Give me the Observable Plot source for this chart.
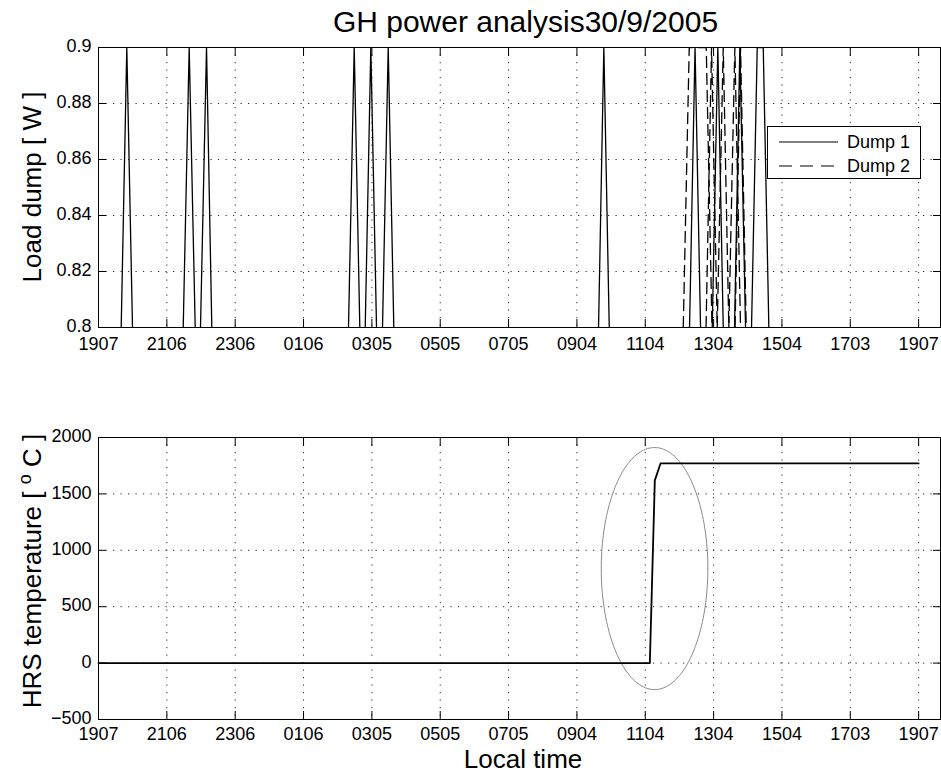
<!DOCTYPE html>
<html><head><meta charset="utf-8">
<script src="https://cdn.jsdelivr.net/npm/d3@7"></script>
<script src="https://cdn.jsdelivr.net/npm/@observablehq/plot@0.6"></script>
<style>
body{margin:0;background:#fff;font-family:"Liberation Sans",Arial,Helvetica,sans-serif;}
#wrap{position:relative;width:941px;height:775px;overflow:hidden;}
#title{height:33px;padding-top:7px;line-height:30px;font-size:30px;text-align:center;padding-left:110px;white-space:nowrap;}
#topChart svg,#bottomChart svg{display:block;}
#legend{position:absolute;left:767px;top:126px;width:152px;height:51px;border:1px solid #000;background:#fff;font-size:18px;}
</style></head><body>
<div id="wrap">
<div id="title">GH power analysis30/9/2005</div>
<div id="topChart"></div>
<div id="bottomChart"></div>
<div id="legend"></div>
</div>
<script>
// ---- data (time in hours after 19:07) ----
const hourTicks = [0, 2, 4, 6, 8, 10, 12, 14, 16, 18, 20, 22, 24];
const tickLabels = ["1907","2106","2306","0106","0305","0505","0705","0904","1104","1304","1504","1703","1907"];
const loadTicks = [0.8, 0.82, 0.84, 0.86, 0.88, 0.9];
const tempTicks = [-500, 0, 500, 1000, 1500, 2000];
const xDomain = [0, 24.64];

// Each pulse: [time leaving 0.8, time reaching 0.9, time leaving 0.9, time back at 0.8]
const dump1Pulses = [
  [0.664, 0.828, 0.828, 0.995],
  [2.479, 2.654, 2.654, 2.830],
  [2.985, 3.161, 3.161, 3.316],
  [7.316, 7.483, 7.483, 7.647],
  [7.805, 7.969, 7.969, 8.136],
  [8.311, 8.478, 8.478, 8.642],
  [14.633, 14.788, 14.788, 14.946],
  [17.296, 17.457, 17.457, 17.618],
  [17.960, 18.124, 18.124, 18.282],
  [18.613, 18.768, 18.768, 18.935],
  [19.110, 19.277, 19.453, 19.617]
];
const dump2Pulses = [
  [17.112, 17.287, 17.785, 17.954],
  [17.779, 17.940, 17.940, 18.106],
  [18.106, 18.282, 18.282, 18.446],
  [18.446, 18.622, 18.622, 18.788],
  [18.628, 18.788, 18.788, 18.955]
];
const pulseLevels = [0.8, 0.9, 0.9, 0.8];

const tempTime = [0, 16.134, 16.280, 16.447, 24];
const tempValue = [0, 0, 1620, 1770, 1770];

// annotation ellipse (centre and radii in data units)
const ellipseCx = 16.272, ellipseCy = 838, ellipseRx = 1.56, ellipseRy = 1073;

// ---- build tables ----
function pulseRows(pulses) {
  const rows = [];
  pulses.forEach((p, i) => p.forEach((t, j) => rows.push({id: i, t, v: pulseLevels[j]})));
  return rows;
}
const dump1Rows = pulseRows(dump1Pulses);
const dump2Rows = pulseRows(dump2Pulses);
const tempRows = tempTime.map((t, i) => ({t, v: tempValue[i]}));
const ellipseRows = d3.range(0, 361, 2).map(a => {
  const r = a * Math.PI / 180;
  return {t: ellipseCx + ellipseRx * Math.cos(r), v: ellipseCy + ellipseRy * Math.sin(r)};
});

const FONT = '"Liberation Sans", Arial, Helvetica, sans-serif';
const xFmt = d => tickLabels[hourTicks.indexOf(d)];
const gridStyle = {stroke: "#000", strokeOpacity: 0.85, strokeDasharray: "1.2,6.3", strokeWidth: 1};

function axesMarks(yTicks, yFmt, xPad) {
  return [
    Plot.frame({stroke: "#000", strokeWidth: 1}),
    Plot.axisX(hourTicks, {anchor: "bottom", tickSize: -8, fill: "none", label: null}),
    Plot.axisX(hourTicks, {anchor: "top", tickSize: -8, fill: "none", label: null}),
    Plot.axisY(yTicks, {anchor: "left", tickSize: -8, fill: "none", label: null}),
    Plot.axisY(yTicks, {anchor: "right", tickSize: -8, fill: "none", label: null}),
    Plot.axisX(hourTicks, {anchor: "bottom", tickSize: 0, tickPadding: xPad, tickFormat: xFmt, label: null}),
    Plot.axisY(yTicks, {anchor: "left", tickSize: 0, tickPadding: 7, tickFormat: yFmt, label: null, dy: -1})
  ];
}

const topPlot = Plot.plot({
  width: 941, height: 390,
  marginLeft: 98, marginRight: 1, marginTop: 7, marginBottom: 103,
  style: {fontFamily: FONT, fontSize: "18px", background: "white", color: "black", overflow: "visible"},
  x: {domain: xDomain, label: null},
  y: {domain: [0.8, 0.9], label: null},
  marks: [
    Plot.gridX(hourTicks.slice(1), gridStyle),
    Plot.gridY(loadTicks.slice(1, -1), gridStyle),
    Plot.line(dump1Rows, {x: "t", y: "v", z: "id", stroke: "#000", strokeWidth: 1.3, clip: true}),
    Plot.line(dump2Rows, {x: "t", y: "v", z: "id", stroke: "#000", strokeWidth: 1.3, strokeDasharray: "11,6", clip: true}),
    ...axesMarks(loadTicks, d => String(d), 10)
  ]
});

const bottomPlot = Plot.plot({
  width: 941, height: 345,
  marginLeft: 98, marginRight: 1, marginTop: 7, marginBottom: 56,
  style: {fontFamily: FONT, fontSize: "18px", background: "white", color: "black", overflow: "visible"},
  x: {domain: xDomain, label: null},
  y: {domain: [-500, 2000], label: null},
  marks: [
    Plot.gridX(hourTicks.slice(1), gridStyle),
    Plot.gridY(tempTicks.slice(1, -1), gridStyle),
    Plot.line(ellipseRows, {x: "t", y: "v", stroke: "#8a8a8a", strokeWidth: 1, curve: "linear"}),
    Plot.line(tempRows, {x: "t", y: "v", stroke: "#000", strokeWidth: 1.8}),
    ...axesMarks(tempTicks, d => d < 0 ? "\u2212" + Math.abs(d) : String(d), 8)
  ]
});

document.getElementById("topChart").appendChild(topPlot);
document.getElementById("bottomChart").appendChild(bottomPlot);

// axis titles
d3.select(topPlot).append("text")
  .attr("transform", "translate(41,147) rotate(-90)")
  .attr("text-anchor", "middle").style("font-size", "26px").style("font-family", FONT)
  .attr("fill", "#000").text("Load dump [ W ]");

const yl2 = d3.select(bottomPlot).append("text")
  .attr("transform", "translate(41,141) rotate(-90)")
  .attr("text-anchor", "middle").style("font-size", "26px").style("font-family", FONT)
  .attr("fill", "#000");
yl2.append("tspan").text("HRS temperature [ ");
yl2.append("tspan").attr("baseline-shift", "super").style("font-size", "18px").text("o");
yl2.append("tspan").text(" C ]");

d3.select(bottomPlot).append("text")
  .attr("x", 523).attr("y", 338)
  .attr("text-anchor", "middle").style("font-size", "26px").style("font-family", FONT)
  .attr("fill", "#000").text("Local time");

// legend
const lg = d3.select("#legend").append("svg").attr("width", 152).attr("height", 51)
  .style("font-family", FONT).style("font-size", "18px");
[["Dump 1", null, 15], ["Dump 2", "13,8", 39]].forEach(([name, dash, y]) => {
  lg.append("line").attr("x1", 11).attr("x2", 70).attr("y1", y).attr("y2", y)
    .attr("stroke", "#000").attr("stroke-width", 1.2).attr("stroke-dasharray", dash);
  lg.append("text").attr("x", 79).attr("y", y).attr("dy", "0.35em").attr("fill", "#000").text(name);
});
</script>
</body></html>
